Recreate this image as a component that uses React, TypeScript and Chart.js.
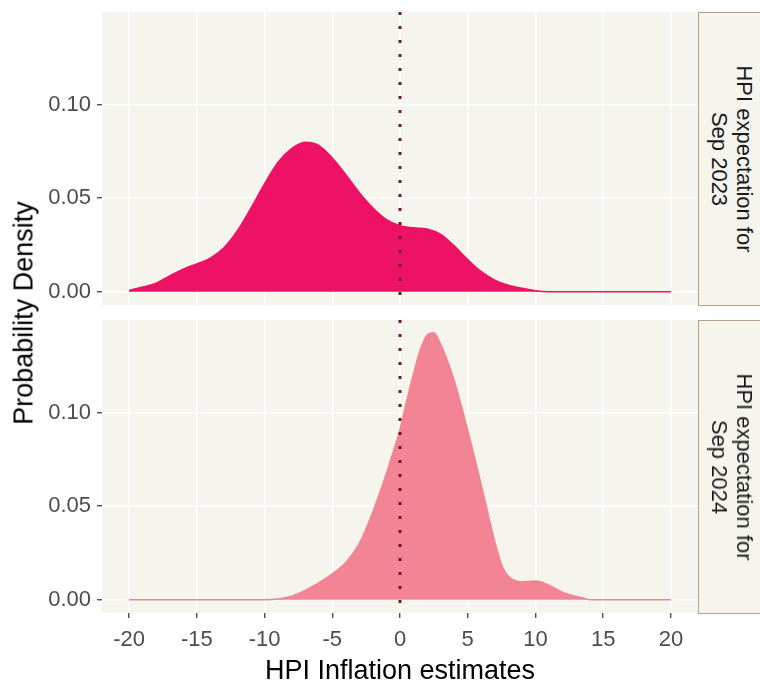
import React, { useEffect, useRef } from "react";
import { Chart, registerables } from "chart.js";

Chart.register(...registerables);

// ---------- data ----------
const X_TICKS = [-20, -15, -10, -5, 0, 5, 10, 15, 20];
const Y_TICKS = [0, 0.05, 0.1];
const X_MIN = -22;
const X_MAX = 22;
const Y_MIN = -0.0071;
const Y_MAX = 0.1496;
const VLINE_X = 0;

const PANEL_LABELS = [
  ["HPI expectation for", "Sep 2023"],
  ["HPI expectation for", "Sep 2024"],
];
const X_TITLE = "HPI Inflation estimates";
const Y_TITLE = "Probability Density";

const SEP2023_X = [
  -20, -19, -18, -17, -16, -15, -14, -13, -12, -11, -10, -9, -8, -7, -6, -5, -4, -3, -2, -1, 0,
  1, 2, 3, 4, 5, 6, 7, 8, 9, 10, 11, 12, 13, 14, 15, 16, 17, 18, 19, 20,
];
const SEP2023_Y = [
  0.0007, 0.0025, 0.0046, 0.0085, 0.0121, 0.0149, 0.018, 0.0235, 0.0326, 0.0447, 0.0577,
  0.0693, 0.0766, 0.08, 0.0783, 0.0715, 0.0626, 0.053, 0.0448, 0.0386, 0.0353,
  0.0342, 0.0335, 0.0306, 0.0245, 0.0172, 0.0107, 0.0062, 0.0035, 0.0018, 0.0005,
  0, 0, 0, 0, 0, 0, 0, 0, 0, 0,
];

const SEP2024_X = [
  -20, -19, -18, -17, -16, -15, -14, -13, -12, -11, -10, -9, -8, -7, -6, -5, -4, -3, -2, -1,
  -0.5, 0, 0.5, 1, 1.5, 2, 2.5, 3, 3.5, 4, 5, 6, 7, 7.5, 8, 9, 10, 11, 12, 13, 13.5, 14,
  15, 16, 17, 18, 19, 20,
];
const SEP2024_Y = [
  0, 0, 0, 0, 0, 0, 0, 0, 0, 0, 0, 0.0004, 0.0019, 0.005, 0.009, 0.0138, 0.0199, 0.0301, 0.047, 0.0676,
  0.079, 0.091, 0.1065, 0.1209, 0.1337, 0.1415, 0.1428, 0.1366, 0.1278, 0.1172, 0.0905, 0.0613, 0.031,
  0.0187, 0.0125, 0.0095, 0.01, 0.0078, 0.0039, 0.0018, 0.001, 0,
  0, 0, 0, 0, 0, 0,
];

// ---------- styles ----------
const FONT = "'Liberation Sans', Arial, Helvetica, sans-serif";
const PANEL_BG = "#F5F5EE";
const STRIP_BG = "#F5F5EE";
const STRIP_BORDER = "#B9A189";
const COLOR_2023 = "#ED1264";
const COLOR_2024 = "#F28493";
const VLINE_COLOR = "#6B1638";
const TICK_TEXT = "#4D4D4D";
const TICK_MARK = "#333333";

const panelBg = {
  id: "panelBg",
  beforeDraw(chart: any) {
    const { ctx, chartArea: a } = chart;
    ctx.save();
    ctx.fillStyle = PANEL_BG;
    ctx.fillRect(a.left, a.top, a.right - a.left, a.bottom - a.top);
    ctx.restore();
  },
};

function makeConfig(xs: number[], ys: number[], color: string, showX: boolean, pad: any, xHeight: number): any {
  const points = xs.map((x, i) => ({ x, y: ys[i] }));
  return {
    type: "line",
    data: {
      datasets: [
        {
          data: [
            { x: VLINE_X, y: Y_MAX },
            { x: VLINE_X, y: Y_MIN },
          ],
          borderColor: VLINE_COLOR,
          borderWidth: 3,
          borderDash: [3, 11],
          borderCapStyle: "butt",
          pointRadius: 0,
          fill: false,
          order: 0,
        },
        {
          data: points,
          borderColor: color,
          backgroundColor: color,
          borderWidth: 1.5,
          pointRadius: 0,
          fill: "origin",
          cubicInterpolationMode: "monotone",
          order: 1,
        },
      ],
    },
    options: {
      responsive: false,
      animation: false,
      devicePixelRatio: 1,
      layout: { padding: pad },
      plugins: { legend: { display: false }, tooltip: { enabled: false } },
      events: [],
      scales: {
        x: {
          type: "linear",
          min: X_MIN,
          max: X_MAX,
          afterBuildTicks: (s: any) => {
            s.ticks = X_TICKS.map((v) => ({ value: v }));
          },
          afterFit: (s: any) => {
            s.height = xHeight;
            s.paddingLeft = 0;
            s.paddingRight = 0;
          },
          grid: {
            color: "#FFFFFF",
            lineWidth: 1.5,
            drawTicks: showX,
            tickLength: 5,
            tickColor: TICK_MARK,
            tickWidth: 1.2,
          },
          border: { display: false },
          ticks: {
            display: showX,
            padding: 9,
            color: TICK_TEXT,
            font: { family: FONT, size: 22 },
            maxRotation: 0,
            autoSkip: false,
            callback: (v: any) => String(v),
          },
        },
        y: {
          type: "linear",
          min: Y_MIN,
          max: Y_MAX,
          afterBuildTicks: (s: any) => {
            s.ticks = Y_TICKS.map((v) => ({ value: v }));
          },
          afterFit: (s: any) => {
            s.width = 102;
            s.paddingTop = 0;
            s.paddingBottom = 0;
          },
          grid: {
            color: "#FFFFFF",
            lineWidth: 1.5,
            tickLength: 5,
            tickColor: TICK_MARK,
            tickWidth: 1.2,
          },
          border: { display: false },
          ticks: {
            padding: 6,
            color: TICK_TEXT,
            font: { family: FONT, size: 22 },
            autoSkip: false,
            callback: (v: any) => Number(v).toFixed(2),
          },
        },
      },
    },
    plugins: [panelBg],
  };
}

function Strip({ top, lines }: { top: number; lines: string[] }) {
  return (
    <div
      style={{
        position: "absolute",
        left: 698,
        top,
        width: 80,
        height: 294,
        background: STRIP_BG,
        border: `1.5px solid ${STRIP_BORDER}`,
        boxSizing: "border-box",
      }}
    >
      <div
        style={{
          position: "absolute",
          left: 33,
          top: "50%",
          transform: "translate(-50%, -50%) rotate(90deg)",
          whiteSpace: "nowrap",
          textAlign: "center",
          fontFamily: FONT,
          fontSize: 22,
          lineHeight: "25px",
          color: "#1A1A1A",
        }}
      >
        {lines.map((l, i) => (
          <div key={i}>{l}</div>
        ))}
      </div>
    </div>
  );
}

export default function App() {
  const topRef = useRef<HTMLCanvasElement>(null);
  const botRef = useRef<HTMLCanvasElement>(null);

  useEffect(() => {
    const c1 = new Chart(
      topRef.current as HTMLCanvasElement,
      makeConfig(SEP2023_X, SEP2023_Y, COLOR_2023, false, { left: 0, top: 12, right: 62, bottom: 7 }, 0)
    );
    const c2 = new Chart(
      botRef.current as HTMLCanvasElement,
      makeConfig(SEP2024_X, SEP2024_Y, COLOR_2024, true, { left: 0, top: 8, right: 62, bottom: 0 }, 70)
    );
    return () => {
      c1.destroy();
      c2.destroy();
    };
  }, []);

  return (
    <div
      style={{
        position: "absolute",
        left: 0,
        top: 0,
        width: 760,
        height: 683,
        overflow: "hidden",
        background: "#FFFFFF",
      }}
    >
      <canvas ref={topRef} width={760} height={312} style={{ position: "absolute", left: 0, top: 0, display: "block" }} />
      <canvas ref={botRef} width={760} height={371} style={{ position: "absolute", left: 0, top: 312, display: "block" }} />
      <Strip top={12} lines={PANEL_LABELS[0]} />
      <Strip top={320} lines={PANEL_LABELS[1]} />
      <div
        style={{
          position: "absolute",
          left: 400,
          top: 657,
          transform: "translateX(-50%)",
          whiteSpace: "nowrap",
          fontFamily: FONT,
          fontSize: 27,
          lineHeight: "27px",
          color: "#000000",
        }}
      >
        {X_TITLE}
      </div>
      <div
        style={{
          position: "absolute",
          left: 23.6,
          top: 312.5,
          transform: "translate(-50%, -50%) rotate(-90deg)",
          whiteSpace: "nowrap",
          fontFamily: FONT,
          fontSize: 27,
          lineHeight: "27px",
          color: "#000000",
        }}
      >
        {Y_TITLE}
      </div>
    </div>
  );
}
